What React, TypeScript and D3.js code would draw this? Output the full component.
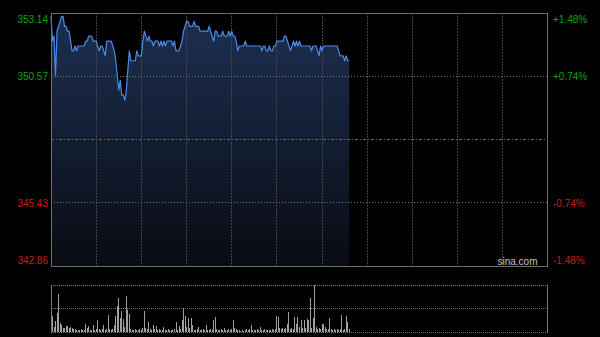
import React from 'react';
import * as d3 from 'd3';

// Minute-by-minute last price (HK session, minute 0 = 09:30)
const prices: number[] = [
  353.0, 352.0, 352.2, 350.6, 352.4, 352.6, 352.8, 353.0, 353.0, 352.6,
  352.6, 352.4, 352.4, 352.0, 351.6, 351.6, 351.8, 351.6, 351.8, 351.8,
  351.8, 351.8, 351.8, 352.0, 352.0, 352.2, 352.2, 352.2, 352.0, 352.0,
  352.0, 351.8, 351.6, 351.8, 351.8, 351.6, 351.4, 352.0, 352.0, 352.0,
  352.0, 351.8, 351.6, 351.2, 350.6, 350.0, 350.4, 349.8, 349.8, 349.6,
  350.0, 350.8, 351.6, 351.2, 351.2, 351.2, 351.2, 351.6, 351.4, 351.4,
  351.4, 352.0, 352.4, 352.2, 352.0, 352.2, 352.0, 352.0, 351.8, 352.0,
  352.0, 352.0, 351.8, 352.0, 351.8, 352.0, 351.8, 352.0, 352.0, 352.0,
  352.0, 351.8, 352.0, 351.6, 351.6, 351.6, 351.8, 352.0, 352.4, 352.6,
  352.8, 352.8, 352.6, 352.6, 352.6, 352.8, 352.6, 352.6, 352.6, 352.4,
  352.4, 352.4, 352.4, 352.4, 352.4, 352.6, 352.4, 352.2, 352.0, 352.4,
  352.4, 352.2, 352.2, 352.2, 352.4, 352.2, 352.2, 352.2, 352.4, 352.2,
  352.4, 352.2, 352.2, 352.0, 351.6, 351.8, 351.8, 351.8, 351.8, 352.0,
  351.8, 351.8, 351.8, 351.8, 351.8, 351.8, 351.8, 351.8, 351.8, 351.8,
  351.6, 351.8, 351.8, 351.6, 351.6, 351.8, 351.6, 351.6, 351.8, 351.8,
  352.0, 352.0, 352.0, 352.0, 352.0, 352.2, 352.2, 352.0, 351.8, 351.6,
  351.8, 352.0, 351.8, 352.0, 351.8, 352.0, 351.8, 351.8, 351.8, 351.8,
  351.8, 351.8, 351.8, 351.6, 351.8, 351.8, 351.8, 351.6, 351.4, 351.8,
  351.6, 351.8, 351.8, 351.8, 351.8, 351.8, 351.8, 351.8, 351.8, 351.8,
  351.8, 351.6, 351.4, 351.4, 351.4, 351.2, 351.4, 351.2, 351.2,
];

// Minute volumes (relative units)
const volumes: number[] = [
  20, 16, 5, 11, 19, 38, 9, 7, 4, 4,
  6, 6, 4, 5, 4, 3, 3, 2, 2, 2,
  3, 2, 2, 8, 4, 6, 2, 2, 7, 2,
  3, 12, 3, 2, 3, 7, 2, 3, 17, 3,
  2, 3, 7, 16, 26, 34, 14, 21, 13, 5,
  36, 22, 18, 3, 2, 2, 3, 2, 2, 3,
  2, 4, 21, 4, 3, 10, 3, 2, 7, 3,
  6, 2, 3, 2, 2, 5, 2, 2, 3, 2,
  2, 2, 3, 10, 2, 6, 3, 12, 24, 16,
  5, 14, 4, 14, 7, 2, 2, 3, 5, 2,
  2, 3, 2, 7, 2, 2, 3, 2, 12, 15,
  3, 2, 2, 3, 2, 4, 2, 2, 3, 2,
  3, 12, 4, 3, 2, 2, 1, 2, 1, 2,
  3, 2, 3, 7, 2, 2, 2, 3, 2, 5,
  2, 2, 3, 2, 2, 2, 2, 3, 2, 3,
  16, 15, 4, 3, 4, 3, 4, 8, 20, 3,
  4, 3, 15, 8, 15, 5, 12, 4, 12, 4,
  13, 12, 34, 4, 14, 47, 5, 3, 4, 3,
  8, 8, 5, 3, 3, 14, 3, 2, 3, 2,
  3, 2, 3, 17, 2, 3, 16, 10, 3,
];

const priceTicks: number[] = [353.14, 350.57, 345.43, 342.86];
const pctTicks: string[] = ['+1.48%', '+0.74%', '-0.74%', '-1.48%'];
const prevClose = 348.0;
const totalMinutes = 330;
const gridMinutes: number[] = [30, 60, 90, 120, 150, 180, 210, 240, 270, 300];

export default function App() {
  const W = 600, H = 337;
  const left = 51, right = 548, top = 13, bottom = 266;
  const vTop = 285, vBottom = 332;
  const font = '"Liberation Sans", Arial, sans-serif';

  const x = d3.scaleLinear().domain([0, totalMinutes]).range([left, right]);
  const y = d3.scaleLinear().domain([priceTicks[3], priceTicks[0]]).range([bottom, top]);
  const yv = d3.scaleLinear().domain([0, d3.max(volumes) as number]).range([vBottom, vTop]);

  const line = d3.line<number>().x((_, i) => x(i)).y((d) => y(d));
  const area = d3.area<number>().x((_, i) => x(i)).y0(bottom).y1((d) => y(d));
  const px = (v: number) => Math.floor(v) + 0.5;
  const labelOffsets = [9.7, 4, 4, -2];

  return (
    <svg width={W} height={H} style={{ position: 'absolute', left: 0, top: 0, display: 'block', background: '#000' }}>
      <defs>
        <linearGradient id="fillGrad" gradientUnits="userSpaceOnUse" x1="0" y1={top} x2="0" y2={bottom}>
          <stop offset="0%" stopColor="#1d2f52" />
          <stop offset="55%" stopColor="#121c30" />
          <stop offset="100%" stopColor="#080b12" />
        </linearGradient>
      </defs>
      <rect x={0} y={0} width={W} height={H} fill="#000" />

      {/* price area */}
      <path d={area(prices) || ''} fill="url(#fillGrad)" />

      {/* vertical grid */}
      {gridMinutes.map((m) => (
        <line key={m} x1={px(x(m))} x2={px(x(m))} y1={top} y2={bottom} stroke="#444" strokeDasharray="2,1" />
      ))}
      {/* horizontal grid */}
      {[priceTicks[1], priceTicks[2]].map((v) => (
        <line key={v} x1={left} x2={right} y1={px(y(v))} y2={px(y(v))} stroke="#777" strokeDasharray="1,2" />
      ))}
      <line x1={left} x2={right} y1={px(y(prevClose))} y2={px(y(prevClose))} stroke="#666" strokeDasharray="3,2,1,2" />

      {/* price line */}
      <path d={line(prices) || ''} fill="none" stroke="#4d8ae6" strokeWidth={1.2} strokeLinejoin="round" />

      {/* border */}
      <rect x={left + 0.5} y={top + 0.5} width={right - left - 1} height={bottom - top} fill="none" stroke="#6e6e6e" />

      {/* axis labels */}
      {priceTicks.map((v, i) => (
        <text key={'l' + v} x={48} y={y(v) + labelOffsets[i]} textAnchor="end" fontFamily={font} fontSize={10}
          fill={v > prevClose ? '#12a012' : '#d01818'}>{v.toFixed(2)}</text>
      ))}
      {pctTicks.map((t, i) => (
        <text key={'r' + t} x={553} y={y(priceTicks[i]) + labelOffsets[i]} textAnchor="start" fontFamily={font} fontSize={10}
          fill={priceTicks[i] > prevClose ? '#12a012' : '#d01818'}>{t}</text>
      ))}
      <text x={537.5} y={264.5} textAnchor="end" fontFamily={font} fontSize={10} fill="#c4c4c4">sina.com</text>

      {/* volume panel */}
      {[vTop, (vTop + vBottom) / 2, vBottom].map((yy) => (
        <line key={yy} x1={left} x2={right} y1={px(yy)} y2={px(yy)} stroke="#7a7a7a" strokeDasharray="1,1" />
      ))}
      {volumes.map((v, i) => (
        <line key={i} x1={px(x(i))} x2={px(x(i))} y1={vBottom} y2={yv(v)} stroke="#a0a0a0" strokeWidth={1} />
      ))}
      <line x1={left + 0.5} x2={left + 0.5} y1={vTop} y2={vBottom + 1} stroke="#777" />
      <line x1={right - 0.5} x2={right - 0.5} y1={vTop} y2={vBottom + 1} stroke="#777" />
    </svg>
  );
}
